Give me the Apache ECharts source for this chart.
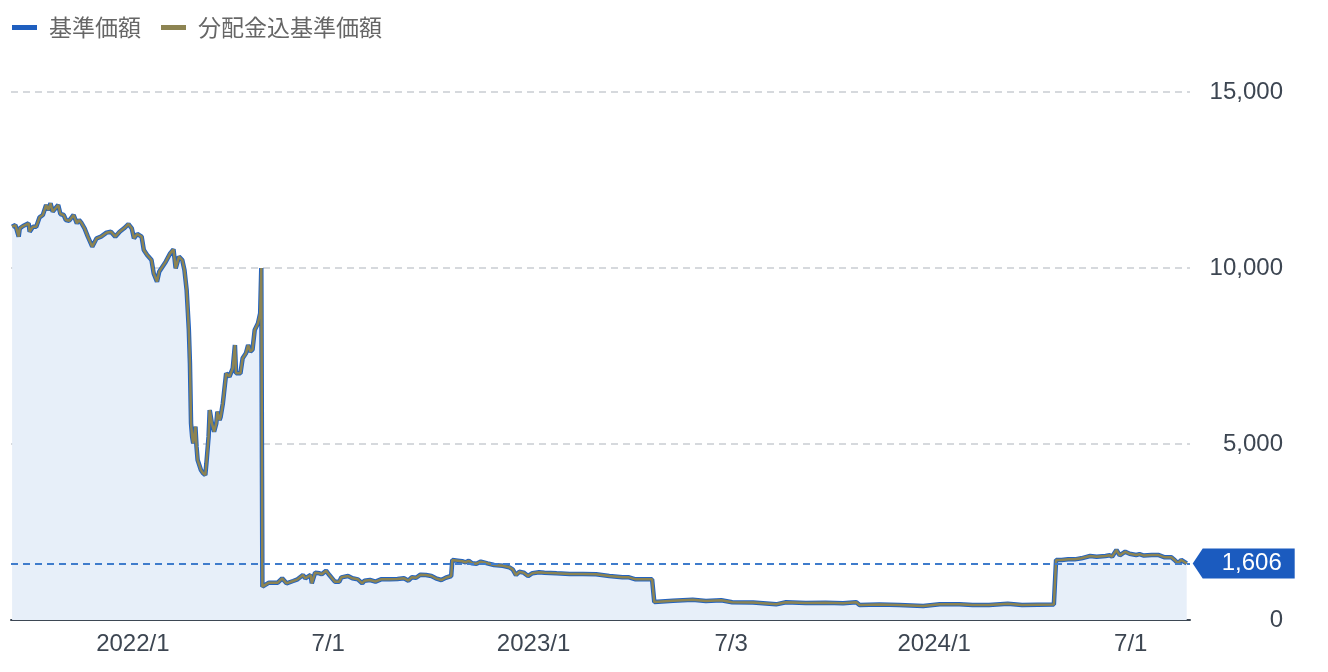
<!DOCTYPE html>
<html>
<head>
<meta charset="utf-8">
<script src="https://cdn.jsdelivr.net/npm/echarts@6/dist/echarts.min.js"></script>
<style>
  html, body { margin: 0; padding: 0; background: #fff; }
  #chart { width: 1328px; height: 672px; }
</style>
</head>
<body>
<div id="chart"></div>
<script>
var seriesNames = ['基準価額', '分配金込基準価額'];

// 日付
var dates = [
  '2021-09-16', '2021-09-19', '2021-09-22', '2021-09-23', '2021-09-26', '2021-10-01', '2021-10-02',
  '2021-10-05', '2021-10-08', '2021-10-11', '2021-10-14', '2021-10-17', '2021-10-19', '2021-10-21',
  '2021-10-23', '2021-10-28', '2021-10-30', '2021-11-02', '2021-11-04', '2021-11-07', '2021-11-11',
  '2021-11-14', '2021-11-16', '2021-11-18', '2021-11-21', '2021-11-24', '2021-11-28', '2021-12-02',
  '2021-12-06', '2021-12-11', '2021-12-15', '2021-12-19', '2021-12-23', '2021-12-27', '2021-12-31',
  '2022-01-03', '2022-01-05', '2022-01-08', '2022-01-12', '2022-01-14', '2022-01-17', '2022-01-21',
  '2022-01-23', '2022-01-26', '2022-01-28', '2022-01-31', '2022-02-03', '2022-02-07', '2022-02-10',
  '2022-02-12', '2022-02-15', '2022-02-18', '2022-02-20', '2022-02-22', '2022-02-23', '2022-02-24',
  '2022-02-25', '2022-02-26', '2022-02-27', '2022-02-28', '2022-03-02', '2022-03-03', '2022-03-04',
  '2022-03-05', '2022-03-07', '2022-03-09', '2022-03-11', '2022-03-12', '2022-03-14', '2022-03-15',
  '2022-03-17', '2022-03-19', '2022-03-21', '2022-03-22', '2022-03-24', '2022-03-25', '2022-03-27',
  '2022-03-28', '2022-03-30', '2022-04-02', '2022-04-05', '2022-04-07', '2022-04-08', '2022-04-12',
  '2022-04-14', '2022-04-17', '2022-04-19', '2022-04-21', '2022-04-23', '2022-04-25', '2022-04-28',
  '2022-04-30', '2022-05-01', '2022-05-02', '2022-05-08', '2022-05-16', '2022-05-20', '2022-05-24',
  '2022-05-30', '2022-06-03', '2022-06-08', '2022-06-10', '2022-06-15', '2022-06-16', '2022-06-19',
  '2022-06-23', '2022-06-25', '2022-06-29', '2022-07-02', '2022-07-07', '2022-07-11', '2022-07-13',
  '2022-07-19', '2022-07-23', '2022-07-28', '2022-08-01', '2022-08-03', '2022-08-08', '2022-08-13',
  '2022-08-18', '2022-08-26', '2022-09-02', '2022-09-08', '2022-09-12', '2022-09-15', '2022-09-19',
  '2022-09-23', '2022-09-28', '2022-10-03', '2022-10-07', '2022-10-12', '2022-10-16', '2022-10-21',
  '2022-10-22', '2022-10-27', '2022-10-31', '2022-11-03', '2022-11-06', '2022-11-09', '2022-11-13',
  '2022-11-17', '2022-11-23', '2022-11-29', '2022-12-07', '2022-12-13', '2022-12-16', '2022-12-19',
  '2022-12-22', '2022-12-26', '2022-12-30', '2023-01-03', '2023-01-09', '2023-01-14', '2023-01-25',
  '2023-02-06', '2023-02-18', '2023-03-02', '2023-03-14', '2023-03-26', '2023-04-01', '2023-04-07',
  '2023-04-16', '2023-04-22', '2023-04-24', '2023-05-11', '2023-05-29', '2023-06-10', '2023-06-24',
  '2023-07-04', '2023-07-23', '2023-08-13', '2023-08-22', '2023-09-09', '2023-09-27', '2023-10-13',
  '2023-10-25', '2023-10-28', '2023-11-15', '2023-12-03', '2023-12-25', '2024-01-09', '2024-01-27',
  '2024-02-08', '2024-02-23', '2024-03-11', '2024-03-24', '2024-04-22', '2024-04-23', '2024-04-24',
  '2024-04-29', '2024-05-05', '2024-05-11', '2024-05-17', '2024-05-25', '2024-05-31', '2024-06-08',
  '2024-06-12', '2024-06-14', '2024-06-18', '2024-06-21', '2024-06-26', '2024-06-30', '2024-07-06',
  '2024-07-09', '2024-07-13', '2024-07-20', '2024-07-26', '2024-08-01', '2024-08-07', '2024-08-10',
  '2024-08-13', '2024-08-16', '2024-08-21'
];

// 基準価額（分配金込基準価額も同じ値で重なっている）
var navValues = [
  11173, 11221, 10890, 11127, 11193, 11269, 11032,
  11174, 11174, 11440, 11506, 11790, 11648, 11838,
  11600, 11790, 11534, 11506, 11364, 11344, 11506,
  11270, 11364, 11288, 11127, 10890, 10606, 10843,
  10890, 11004, 11032, 10890, 11032, 11127, 11250,
  11127, 10843, 10966, 10890, 10511, 10369, 10227,
  9849, 9612, 9896, 10038, 10180, 10416, 10530,
  9991, 10322, 10227, 9943, 9375, 8807, 8239,
  7292, 5587, 5208, 5019, 5492, 4924, 4545,
  4451, 4261, 4167, 4119, 4451, 5208, 5966,
  5587, 5350, 5587, 5918, 5682, 5776, 6155,
  6440, 7008, 6913, 7150, 7812, 7008, 7008,
  7434, 7576, 7812, 7623, 7680, 8239, 8428,
  8712, 10000, 947, 1061, 1061, 1184, 1042,
  1108, 1155, 1278, 1184, 1278, 1042, 1345,
  1326, 1300, 1401, 1278, 1089, 1089, 1212,
  1250, 1184, 1155, 1042, 1117, 1136, 1089,
  1155, 1155, 1165, 1184, 1117, 1212, 1200,
  1288, 1278, 1250, 1184, 1136, 1200, 1250,
  1705, 1686, 1670, 1640, 1680, 1610, 1600,
  1658, 1610, 1563, 1540, 1496, 1440, 1278,
  1370, 1345, 1250, 1330, 1354, 1345, 1326,
  1310, 1310, 1297, 1250, 1212, 1212, 1155,
  1155, 1155, 510, 549, 577, 540, 559,
  502, 495, 445, 502, 483, 490, 475,
  502, 426, 440, 426, 398, 445, 445,
  426, 426, 460, 426, 440, 440, 1705,
  1705, 1723, 1723, 1752, 1818, 1800, 1818,
  1837, 1800, 1989, 1837, 1941, 1880, 1847,
  1870, 1830, 1847, 1850, 1780, 1780, 1705,
  1610, 1705, 1606
];

// x軸の目盛り
var tickDates = ['2022-01-04', '2022-07-01', '2023-01-04', '2023-07-03', '2024-01-04', '2024-07-01'];
var tickLabels = ['2022/1', '7/1', '2023/1', '7/3', '2024/1', '7/1'];
var xRange = ['2021-09-15', '2024-08-24'];

// y軸
var yMin = 0;
var yMax = 15000;
var yInterval = 5000;

function toTime(s) {
  var p = s.split('-');
  return Date.UTC(+p[0], +p[1] - 1, +p[2]);
}

var tickTimes = tickDates.map(toTime);
var navData = dates.map(function (d, i) { return [toTime(d), navValues[i]]; });
var lastPoint = navData[navData.length - 1];

var numFont = '"Liberation Sans", Arial, sans-serif';

var myChart = echarts.init(document.getElementById('chart'));
var option = {
  animation: false,
  // 凡例
  legend: {
    data: seriesNames,
    left: 12,
    top: 16,
    padding: 0,
    icon: 'rect',
    itemWidth: 25,
    itemHeight: 5,
    itemGap: 20,
    textStyle: {
      fontSize: 23,
      color: '#666',
      fontFamily: '"Noto Sans CJK JP", sans-serif',
      padding: [0, 0, 0, 7]
    }
  },
  grid: {
    left: 11,
    right: 138,
    top: 92,
    bottom: 52
  },
  // 日付は数値（ミリ秒）で持つ
  xAxis: {
    type: 'value',
    min: toTime(xRange[0]),
    max: toTime(xRange[1]),
    axisLine: {
      lineStyle: { color: '#3d4754', width: 2 }
    },
    axisTick: { show: false },
    splitLine: { show: false },
    axisLabel: {
      customValues: tickTimes,
      formatter: function (v) {
        var i = tickTimes.indexOf(v);
        return i >= 0 ? tickLabels[i] : '';
      },
      color: '#3d4652',
      fontSize: 24,
      fontFamily: numFont,
      margin: 12
    }
  },
  yAxis: {
    type: 'value',
    position: 'right',
    min: yMin,
    max: yMax,
    interval: yInterval,
    axisLine: { show: false },
    axisTick: { show: false },
    axisLabel: {
      align: 'right',
      margin: 93,
      color: '#3d4652',
      fontSize: 24,
      fontFamily: numFont,
      formatter: function (v) { return v.toLocaleString('en-US'); }
    },
    splitLine: {
      lineStyle: { color: '#c9cdd2', type: [7, 5], width: 1.5 }
    }
  },
  series: [
    {
      name: seriesNames[0],
      type: 'line',
      data: navData,
      showSymbol: false,
      clip: false,
      lineStyle: { color: '#2262c0', width: 4.5 },
      itemStyle: { color: '#1f5fbf' },
      areaStyle: { color: '#e7eff9', opacity: 1 },
      markLine: {
        silent: true,
        symbol: ['none', 'none'],
        label: { show: false },
        lineStyle: { color: '#3f7ccc', type: [7, 5], width: 1.8 },
        data: [{ yAxis: lastPoint[1] }]
      },
      markPoint: {
        silent: true,
        symbol: 'path://M0,15L10,0L102,0L102,30L10,30Z',
        symbolSize: [102, 30],
        symbolOffset: [57, 0],
        itemStyle: { color: '#1b5bbf' },
        label: {
          show: true,
          position: 'inside',
          offset: [8, 0],
          color: '#fff',
          fontSize: 24,
          fontFamily: numFont,
          formatter: function (p) { return p.value.toLocaleString('en-US'); }
        },
        data: [{ coord: lastPoint, value: lastPoint[1] }]
      }
    },
    {
      name: seriesNames[1],
      type: 'line',
      data: navData,
      showSymbol: false,
      lineStyle: { color: '#8d8452', width: 2.5 },
      itemStyle: { color: '#8d8452' }
    }
  ]
};

myChart.setOption(option);
window.addEventListener('resize', function () {
  myChart.resize();
});
</script>
</body>
</html>
